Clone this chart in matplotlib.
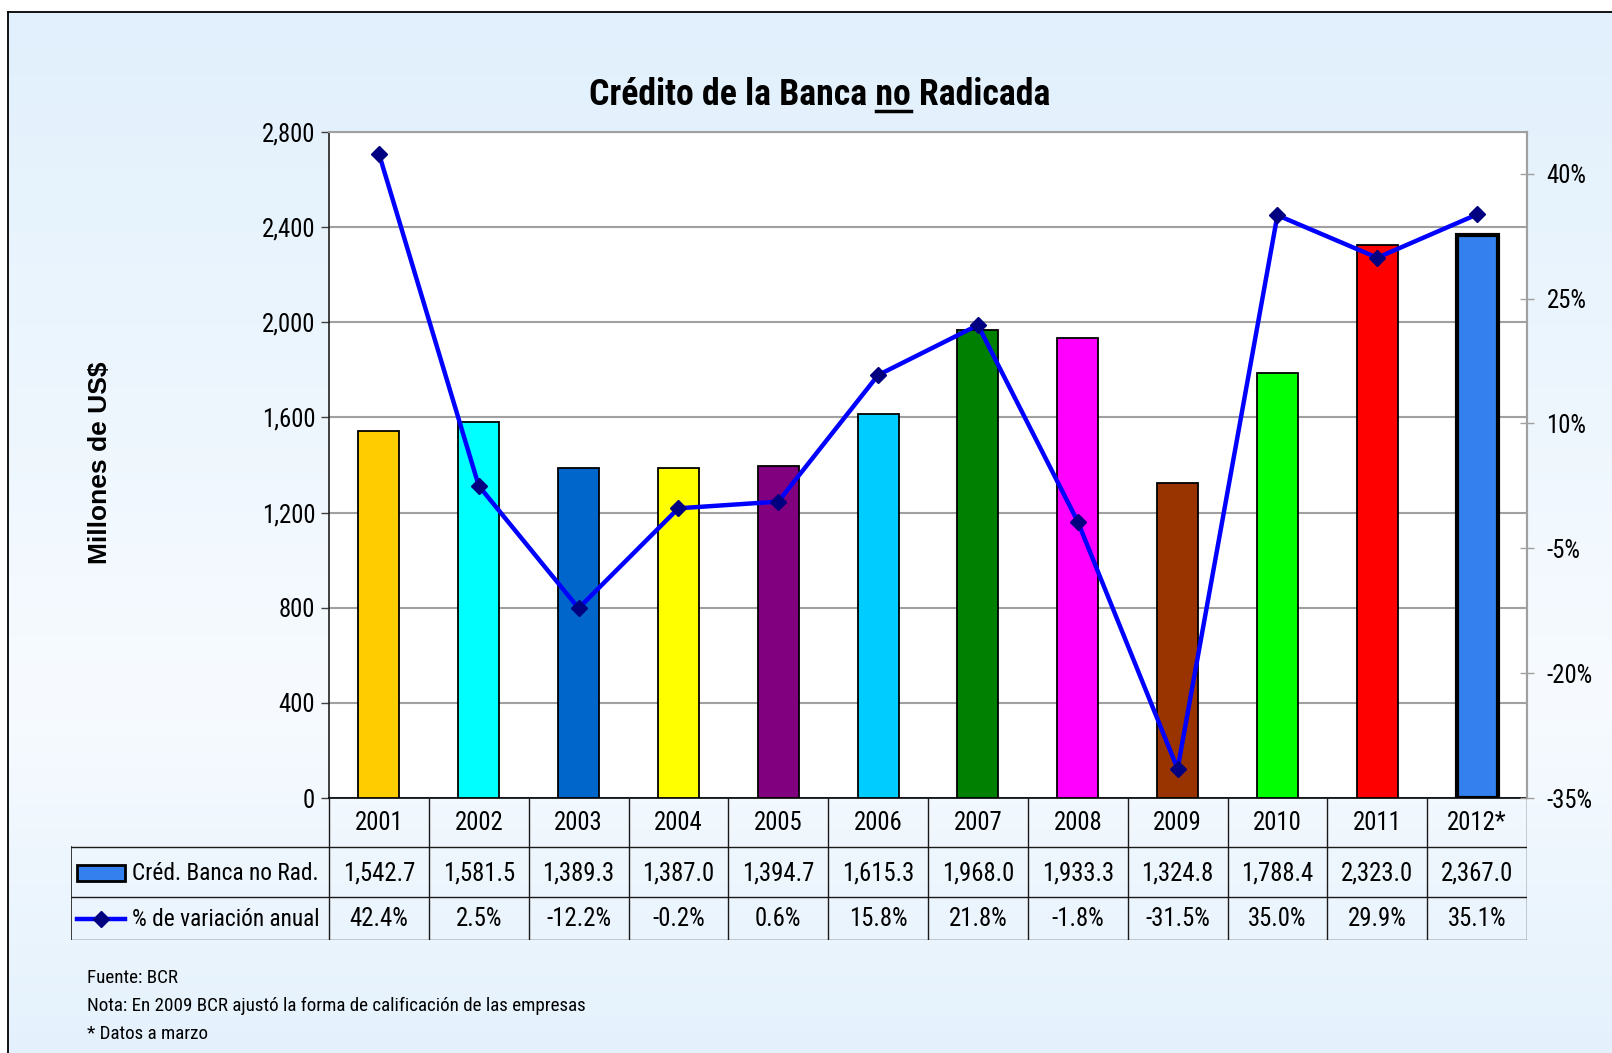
import numpy as np
import matplotlib
matplotlib.use('Agg')
import matplotlib.pyplot as plt
from matplotlib import font_manager as fm
from matplotlib.patches import Rectangle
from matplotlib.lines import Line2D
from matplotlib.ticker import FuncFormatter

# ---------------- data ----------------
years = ['2001', '2002', '2003', '2004', '2005', '2006', '2007', '2008',
         '2009', '2010', '2011', '2012*']
credit = [1542.7, 1581.5, 1389.3, 1387.0, 1394.7, 1615.3, 1968.0, 1933.3,
          1324.8, 1788.4, 2323.0, 2367.0]
variation = [42.4, 2.5, -12.2, -0.2, 0.6, 15.8, 21.8, -1.8, -31.5, 35.0, 29.9, 35.1]
bar_colors = ['#FFCC00', '#00FFFF', '#0066CC', '#FFFF00', '#800080', '#00CCFF',
              '#008000', '#FF00FF', '#993300', '#00FF00', '#FF0000', '#3380EE']
left_ticks = [0, 400, 800, 1200, 1600, 2000, 2400, 2800]
right_ticks = [-35, -20, -5, 10, 25, 40]
series_labels = ['Créd. Banca no Rad.', '% de variación anual']
title_text = 'Crédito de la Banca no Radicada'
underlined_word = 'no'
ylabel_text = 'Millones de US$'
notes = ['Fuente: BCR',
         'Nota: En 2009 BCR ajustó la forma de calificación de las empresas',
         '* Datos a marzo']

# ---------------- font choice (narrow sans) ----------------
fonts = fm.fontManager.ttflist
names = {f.name for f in fonts}
stretch = 'normal'
scale = 1.0
if 'Liberation Sans Narrow' in names:
    fam = 'Liberation Sans Narrow'
elif 'Arial Narrow' in names:
    fam = 'Arial Narrow'
elif 'Roboto Condensed' in names:
    fam = 'Roboto Condensed'
    scale = 1.05
elif any(f.name == 'DejaVu Sans' and str(f.stretch) in ('condensed', 'semi-condensed', '87.5', '75')
         for f in fonts):
    fam = 'DejaVu Sans'
    stretch = 'condensed'
    scale = 0.95
else:
    fam = 'Liberation Sans'
    scale = 0.9

W, H = 1612, 1053
plt.rcParams['font.family'] = [fam, 'DejaVu Sans']
plt.rcParams['font.stretch'] = stretch
fig = plt.figure(figsize=(W / 100, H / 100), dpi=100)

FS = 17 * scale
FS_L = 16 * scale
FS_T = 24.5 * scale
FS_N = 13 * scale


def fx(px):
    return px / W


def fy(py):
    return 1 - py / H


# background gradient + frame
bg = fig.add_axes([0, 0, 1, 1], zorder=-10)
bg.set_xlim(0, W)
bg.set_ylim(H, 0)
bg.axis('off')
n = 400
t = np.linspace(0, 1, n)
top = np.array([225, 240, 252]) / 255
mid = np.array([247, 251, 255]) / 255
bot = np.array([228, 241, 252]) / 255
k = 0.66
grad = np.zeros((n, 1, 3))
for i, v in enumerate(t):
    if v < k:
        a = v / k
        grad[i, 0] = top * (1 - a) + mid * a
    else:
        a = (v - k) / (1 - k)
        grad[i, 0] = mid * (1 - a) + bot * a
bg.imshow(grad, extent=(8, W, H, 12), aspect='auto', interpolation='bilinear')
bg.plot([8, 8], [12, H], color='black', lw=1.3)
bg.plot([8, W], [12, 12], color='black', lw=1.3)

# ---------------- main axes ----------------
L, R, T, B = 329, 1527, 132, 798
ax = fig.add_axes([fx(L), fy(B), fx(R - L), (B - T) / H])
ax.set_facecolor('white')
x = np.arange(len(years))
lws = [1.3] * (len(years) - 1) + [3.0]
ax.bar(x, credit, width=0.41, color=bar_colors, edgecolor='black',
       linewidth=lws, zorder=3)
ax.set_xlim(-0.5, len(years) - 0.5)
ax.set_ylim(0, 2800)
ax.set_yticks(left_ticks)
ax.yaxis.set_major_formatter(FuncFormatter(lambda v, p: f'{v:,.0f}'))
ax.grid(axis='y', color='#A0A0A0', lw=1.5, zorder=0)
ax.set_axisbelow(True)
ax.set_xticks([])
ax.tick_params(axis='y', direction='out', length=6, width=1, color='#404040',
               labelsize=FS, pad=4)
for s in ['top', 'right']:
    ax.spines[s].set_color('#A0A0A0')
    ax.spines[s].set_linewidth(1.5)
ax.spines['left'].set_color('#202020')
ax.spines['left'].set_linewidth(1.2)
ax.spines['bottom'].set_color('black')
ax.spines['bottom'].set_linewidth(1.2)

ax2 = ax.twinx()
ax2.plot(x, variation, color='#0000FF', lw=3.2, marker='D', ms=8,
         mfc='#000080', mec='#000080', zorder=5)
ax2.set_ylim(-35, 45)
ax2.set_yticks(right_ticks)
ax2.set_yticklabels([f'{v}%' for v in right_ticks])
ax2.tick_params(axis='y', direction='inout', length=10, width=1, color='#A0A0A0',
                labelsize=FS, pad=9)
for s in ['top', 'left', 'bottom']:
    ax2.spines[s].set_visible(False)
ax2.spines['right'].set_color('#A0A0A0')
ax2.spines['right'].set_linewidth(1.5)

fig.text(fx(100), fy(463), ylabel_text, rotation=90, ha='center', va='center',
         fontsize=19, fontweight='bold', family=['Liberation Sans', 'DejaVu Sans'],
         fontstretch='normal')

# ---------------- data table ----------------
TL, TB = 71, 940
r1, r2 = 847, 897
tab = fig.add_axes([fx(TL), fy(TB), fx(R - TL), (TB - B) / H])
cat_w = (R - L) / len(years)
xmin = -0.5 - (L - TL) / cat_w
xmax = len(years) - 0.5
tab.set_xlim(xmin, xmax)
tab.set_ylim(TB, B)
tab.axis('off')
lc = '#1a1a1a'
for kx in range(len(years) + 1):
    tab.plot([kx - 0.5, kx - 0.5], [B, TB], color=lc, lw=1.0)
for yy in [r1, r2, TB]:
    tab.plot([xmin, xmax], [yy, yy], color=lc, lw=1.0)
tab.plot([xmin, xmin], [r1, TB], color=lc, lw=1.2)
for i, yr in enumerate(years):
    tab.text(i, (B + r1) / 2 + 1, yr, ha='center', va='center', fontsize=FS)
    tab.text(i, (r1 + r2) / 2 + 1, f'{credit[i]:,.1f}', ha='center', va='center',
             fontsize=FS)
    tab.text(i, (r2 + TB) / 2 + 1, f'{variation[i]:.1f}%', ha='center',
             va='center', fontsize=FS)
# legend keys
kx0 = xmin + (77 - TL) / cat_w
kw = 48 / cat_w
tab.add_patch(Rectangle((kx0, 865), kw, 16, facecolor=bar_colors[-1],
                        edgecolor='black', lw=2.0))
tab.plot([kx0, kx0 + kw], [919, 919], color='#0000FF', lw=3.2)
tab.plot([kx0 + kw / 2], [919], marker='D', ms=8, color='#000080')
lx = xmin + (132 - TL) / cat_w
tab.text(lx, (r1 + r2) / 2 + 1, series_labels[0], ha='left', va='center',
         fontsize=FS_L)
tab.text(lx, (r2 + TB) / 2 + 1, series_labels[1], ha='left', va='center',
         fontsize=FS_L)

# ---------------- title with underline ----------------
title = fig.text(fx(820), fy(105), title_text, ha='center', va='baseline',
                 fontsize=FS_T, fontweight='bold')
renderer = fig.canvas.get_renderer()
bb = title.get_window_extent(renderer)
idx = title_text.index(underlined_word)
pre = title_text[:idx + len(underlined_word)]
tmp1 = fig.text(0, 0, pre, fontsize=FS_T, fontweight='bold')
tmp2 = fig.text(0, 0, underlined_word, fontsize=FS_T, fontweight='bold')
w_pre = tmp1.get_window_extent(renderer).width
w_word = tmp2.get_window_extent(renderer).width
tmp1.remove()
tmp2.remove()
ux1 = bb.x0 + w_pre
ux0 = ux1 - w_word
uy = fy(111) * H
fig.add_artist(Line2D([ux0 / W, ux1 / W], [uy / H, uy / H], color='black', lw=2.5))

# ---------------- notes ----------------
for txt, yb in zip(notes, [983, 1011, 1039]):
    fig.text(fx(87), fy(yb), txt, ha='left', va='baseline', fontsize=FS_N)

fig.savefig('out.png', dpi=100)
